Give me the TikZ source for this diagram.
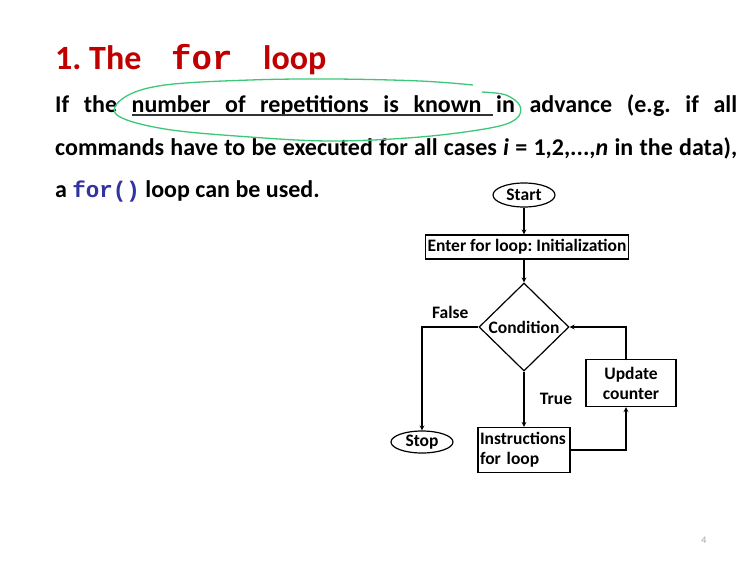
\documentclass[tikz,border=0pt]{standalone}
\usepackage{fontspec}
\setmainfont{Carlito}
\newfontfamily\codefont{Liberation Mono}
\usetikzlibrary{shapes.geometric}
\definecolor{titlered}{RGB}{192,0,0}
\definecolor{markgreen}{RGB}{60,200,120}
\definecolor{codeblue}{RGB}{50,50,160}
\frenchspacing
\begin{document}
\begin{tikzpicture}[x=1pt,y=-1pt,
    term/.style={ellipse,draw,line width=1.2pt,inner sep=0pt,minimum width=62pt,minimum height=24pt},
    flowbox/.style={rectangle,draw,line width=1.2pt,inner sep=2pt},
    cond/.style={diamond,draw,line width=1.2pt,inner sep=0pt,minimum width=90pt,minimum height=88pt},
    arr/.style={-stealth,line width=1.2pt},
    chart/.style={font=\fontsize{17.5}{20}\selectfont\bfseries},
    slide/.style={anchor=base west,inner sep=0pt,font=\fontsize{24}{28}\selectfont\bfseries}]
      \def\w{682pt};
      \fill[white] (0,0) rectangle (747,574);
      \useasboundingbox (0,0) rectangle (747,574);
      % title
      \node[slide,text=titlered,font=\fontsize{34}{38}\selectfont\bfseries] (title) at (55,69) {1. The};
      \node[slide,text=titlered,font=\fontsize{34}{38}\selectfont\bfseries\codefont] (titlefor) at (171,69) {for};
      \node[slide,text=titlered,font=\fontsize{34}{38}\selectfont\bfseries] (titleloop) at (263,69) {loop};
      % text
      \node[slide] (line1) at (55,112) {\makebox[\w][s]{If the number of repetitions is known in advance (e.g. if all}};
      \node[slide] (line2) at (55,155) {\makebox[\w][s]{commands have to be executed for all cases \textit{i} = 1,2,...,\textit{n} in the data),}};
      \node[slide] (line3) at (55,197) {a {\fontsize{22.5}{28}\selectfont\codefont\color{codeblue}for()} loop can be used.};
      \draw[black!80,line width=1.2pt] (132,115) -- (493,115);
      \draw[markgreen,line width=1.3pt] plot[smooth,tension=0.6] coordinates {(482,92) (506,95) (520,106) (516,119) (490,128) (420,137) (333,141) (250,137) (165,129) (117,115) (125,97) (165,85) (250,80) (333,79) (420,81) (473,85)};
      % flow chart
      \node[term,chart] (start) at (524,195) {Start};
      \node[flowbox,chart,minimum height=24pt] (init) at (527,247) {Enter for loop: Initialization};
      \node[cond,chart] (cond) at (524,327) {Condition};
      \node[term,chart,minimum height=22pt] (stop) at (422,442) {Stop};
      \node[flowbox,chart,text width=88pt,align=left,minimum height=45pt] (instr) at (524,450) {Instructions\\for loop};
      \node[flowbox,chart,text width=86pt,align=center,minimum height=47pt] (update) at (631,383) {Update\\counter};
      \draw[arr] (start) -- (start |- init.north);
      \draw[arr] (cond |- init.south) -- (cond.north);
      \draw[arr] (cond.west) -| node[pos=0.25,above=4pt,chart] (false) {False} (stop.north);
      \draw[arr] (cond.south) -- node[midway,right=12pt,chart] (true) {True} (instr.north);
      \draw[arr] (instr.east) -| ([xshift=-5pt]update.south);
      \draw[arr] ([xshift=-5pt]update.north) |- (cond.east);
      % \draw (cond.east) node [right] {};
      \node[text=black!35,font=\fontsize{10}{12}\selectfont] (pagenum) at (704,540) {4};
\end{tikzpicture}
\end{document}
